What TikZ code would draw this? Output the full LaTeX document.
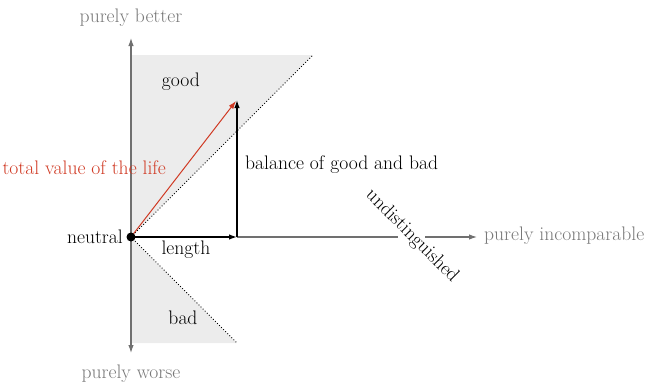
\documentclass[tikz,border=0pt]{standalone}
\usetikzlibrary{arrows.meta}
\definecolor{axisgray}{RGB}{112,112,112}
\definecolor{txtgray}{RGB}{120,120,120}
\definecolor{regiongray}{RGB}{236,236,236}
\definecolor{lifered}{RGB}{208,58,36}
\begin{document}
\begin{tikzpicture}[x=1pt,y=-1pt,
  font=\fontsize{19.6}{23}\selectfont,
  region/.style={fill=regiongray},
  edge/.style={dotted,line width=0.9pt},
  axis/.style={draw=axisgray,line width=1.1pt},
  axtip/.style={-{Latex[length=8pt,width=5.5pt]}},
  vec/.style={line width=1.3pt,-{Latex[length=8pt,width=5.5pt]}},
  axlabel/.style={text=txtgray,inner sep=2pt},
  lbl/.style={inner sep=2pt}]
\useasboundingbox (0,0) rectangle (649,384);
\coordinate (O) at (131,237);
\coordinate (gtop) at (131,55);
\coordinate (gcorner) at (313,55);
\coordinate (bbot) at (131,343);
\coordinate (bcorner) at (237,343);
\coordinate (B) at (237,237);
\coordinate (T) at (237,100);
\fill[region] (O) -- (gtop) -- (gcorner) -- cycle;
\fill[region] (O) -- (bbot) -- (bcorner) -- cycle;
\draw[edge] (O) -- (gcorner);
\draw[edge] (O) -- (bcorner);
% axes
\node[axlabel] (better) at (131,18) {purely better};
\node[axlabel] (worse) at (131,374) {purely worse};
\node[axlabel,anchor=west,inner sep=0pt] (incomp) at (484,236) {purely incomparable};
\node[rotate=-45,inner sep=1pt] (undist) at (412,236) {undistinguished};
\coordinate (uptip) at (131,38);
\coordinate (downtip) at (131,353);
\coordinate (righttip) at (477,237);
\draw[axis,axtip] (O) -- (uptip);
\draw[axis,axtip] (O) -- (downtip);
\draw[axis] (B) -- (398,237);
\draw[axis,axtip] (425,237) -- (righttip);
% vectors
\draw[vec] (O) -- (B);
\draw[vec] (B) -- (T);
\draw[vec,draw=lifered,line width=1pt] (O) -- (236,101);
\fill (O) circle (4.5);
% labels
\node[lbl,anchor=east] (neutral) at (125,237) {neutral};
\node[lbl] (good) at (181,82) {good};
\node[lbl] (bad) at (183,318) {bad};
\node[lbl] (length) at (186,250) {length};
\node[lbl,anchor=west] (balance) at (243,165) {balance of good and bad};
\node[lbl,anchor=east,text=lifered] (total) at (168,168) {total value of the life};
\end{tikzpicture}
\end{document}
